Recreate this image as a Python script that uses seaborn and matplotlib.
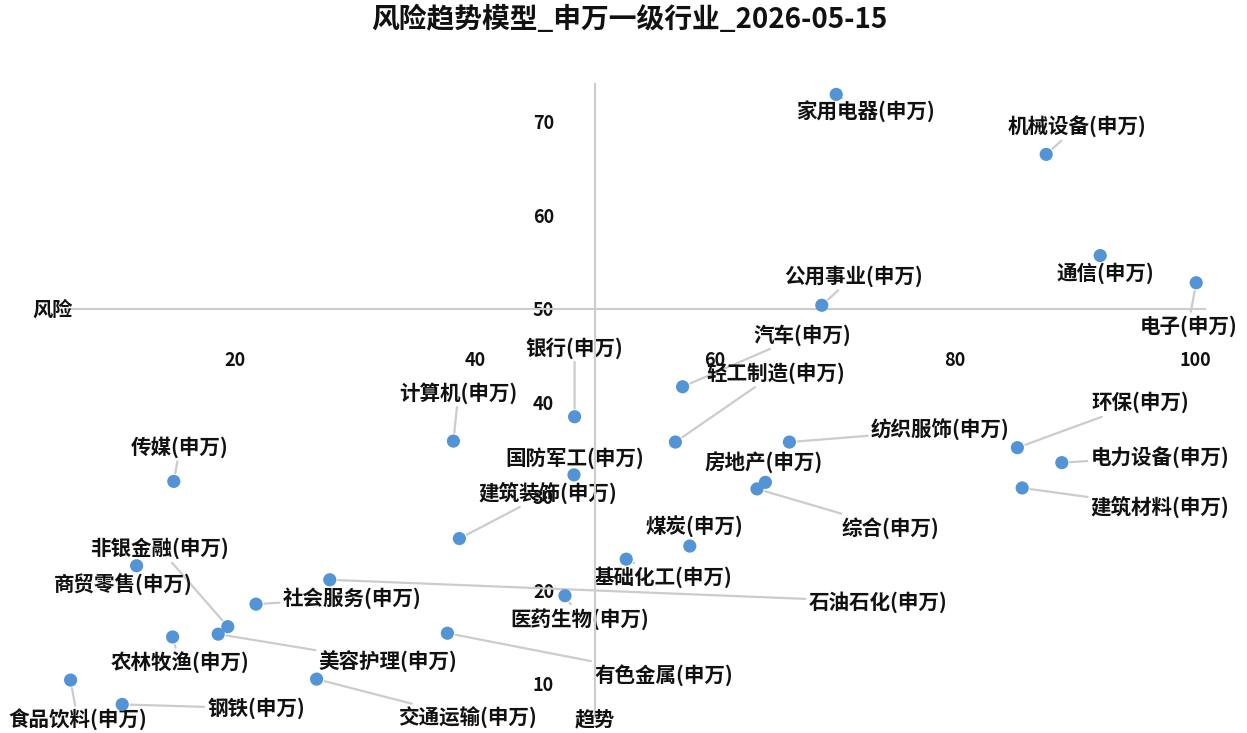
import numpy as np
import matplotlib
matplotlib.use('Agg')
import matplotlib.pyplot as plt
import seaborn as sns
import pandas as pd

# data
industries = ['家用电器', '机械设备', '通信', '电子', '公用事业', '汽车', '轻工制造', '银行',
              '计算机', '传媒', '国防军工', '建筑装饰', '纺织服饰', '环保', '电力设备', '建筑材料',
              '房地产', '综合', '煤炭', '基础化工', '石油石化', '社会服务', '医药生物', '有色金属',
              '非银金融', '美容护理', '商贸零售', '农林牧渔', '食品饮料', '钢铁', '交通运输']
risk = [70.1, 87.6, 92.1, 100.1, 68.9, 57.3, 56.7, 48.3,
        38.2, 14.9, 48.25, 38.7, 66.2, 85.2, 88.9, 85.6,
        64.2, 63.5, 57.9, 52.6, 27.9, 21.75, 47.5, 37.7,
        19.4, 18.6, 11.8, 14.8, 6.3, 10.6, 26.8]
trend = [72.9, 66.5, 55.7, 52.8, 50.4, 41.7, 35.8, 38.5,
         35.9, 31.6, 32.3, 25.5, 35.8, 35.2, 33.6, 30.9,
         31.5, 30.8, 24.7, 23.3, 21.1, 18.5, 19.4, 15.4,
         16.1, 15.3, 22.6, 15.0, 10.4, 7.8, 10.5]
x_ticks = [20, 40, 60, 80, 100]
y_ticks = [10, 20, 30, 40, 50, 60, 70]
title = '风险趋势模型_申万一级行业_2026-05-15'

# label placement (offset in pixels from the point)
label_offsets = [(29, -18), (31, 28), (5, -18), (-8, -43), (32, 29), (120, 52), (100, 69), (0, 69),
                 (5, 48), (6, 34), (1, 17), (88, 46), (151, 12), (123, 45), (98, 6), (138, -19),
                 (-2, 19), (133, -39), (5, 19), (37, -18), (548, -22), (96, 6), (15, -23), (216, -42),
                 (-68, 78), (170, -28), (-13, -18), (7, -25), (7, -40), (134, -4), (151, -39)]

df = pd.DataFrame({'name': [n + '(申万)' for n in industries], '风险': risk, '趋势': trend})

sns.set_style('white')
plt.rcParams['font.family'] = ['Noto Sans CJK SC', 'DejaVu Sans']
plt.rcParams['font.weight'] = 'bold'

W, H = 1247, 733
fig = plt.figure(figsize=(W / 100, H / 100), dpi=100)
ax = fig.add_axes([67 / W, 1 - 716.6 / H, (1204.6 - 67) / W, (716.6 - 84.1) / H])

sns.scatterplot(data=df, x='风险', y='趋势', s=90, color='#5294d6', edgecolor='none',
                ax=ax, zorder=3, clip_on=False)

ax.set_xlim(6, 100.8)
ax.set_ylim(6.5, 74)
ax.set_xlabel('')
ax.set_ylabel('')

# axes cross in the middle
for side in ['top', 'right']:
    ax.spines[side].set_visible(False)
for side in ['left', 'bottom']:
    ax.spines[side].set_position(('data', 50))
    ax.spines[side].set_color('#cccccc')
    ax.spines[side].set_linewidth(1.5)

ax.set_xticks(x_ticks)
ax.set_yticks(y_ticks)
ax.tick_params(axis='both', direction='out', length=9.5, width=1.5, color='#999999',
               labelsize=13, labelcolor='#111111')
ax.tick_params(axis='x', pad=21)
ax.tick_params(axis='y', pad=20)

# axis names
ax.annotate('风险', xy=(0, 50), xycoords=('axes fraction', 'data'), xytext=(-14, 0),
            textcoords='offset pixels', ha='center', va='center', fontsize=14.5,
            fontweight='bold', color='#111111')
ax.annotate('趋势', xy=(50, 0), xycoords=('data', 'axes fraction'), xytext=(0, -2),
            textcoords='offset pixels', ha='center', va='center', fontsize=14.5,
            fontweight='bold', color='#111111', annotation_clip=False)

for (name, xv, yv), off in zip(df[['name', '风险', '趋势']].values, label_offsets):
    ax.annotate(name, xy=(xv, yv), xytext=off, textcoords='offset pixels',
                ha='center', va='center', fontsize=14.8, fontweight='bold', color='#111111',
                arrowprops=dict(arrowstyle='-', color='#cccccc', lw=1.6, shrinkA=0, shrinkB=6),
                zorder=2, annotation_clip=False)

fig.text(0.505, 1 - 20 / H, title, ha='center', va='center', fontsize=20,
         fontweight='bold', color='#111111')

fig.savefig('out.png', dpi=100)
